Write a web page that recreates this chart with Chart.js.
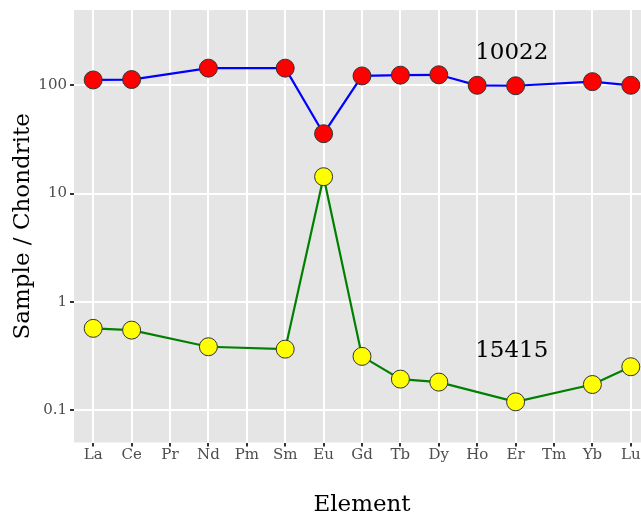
<!DOCTYPE html>
<html>
<head>
<meta charset="utf-8">
<script src="https://cdn.jsdelivr.net/npm/chart.js@4.4.1/dist/chart.umd.min.js"></script>
<style>
  html, body { margin: 0; padding: 0; background: #fff; }
  #wrap { width: 641px; height: 517px; overflow: hidden; }
  canvas { display: block; }
</style>
</head>
<body>
<div id="wrap"><canvas id="chart" width="660" height="517"></canvas></div>
<script>
// REE pattern, chondrite normalised
const elements = ["La", "Ce", "Pr", "Nd", "Pm", "Sm", "Eu", "Gd", "Tb", "Dy", "Ho", "Er", "Tm", "Yb", "Lu"];
const sample10022 = [112, 113, null, 144, null, 144, 35.7, 122, 124, 125, 100, 99, null, 108, 100];
const sample15415 = [0.568, 0.547, null, 0.384, null, 0.365, 14.3, 0.313, 0.193, 0.181, null, 0.119, null, 0.172, 0.251];
const yTicks = [0.1, 1, 10, 100];
const yTickLabels = ["0.1", "1", "10", "100"];
const sampleNames = ["10022", "15415"];
const nameAt = [[10.9, 200], [10.9, 0.352]]; // [category index, y value]

const FONT = "'DejaVu Serif', serif";

const panelBg = {
	id: "panelBg",
	beforeDraw(chart) {
		const { ctx, chartArea: a } = chart;
		ctx.save();
		ctx.fillStyle = "#E5E5E5";
		ctx.fillRect(a.left, a.top, a.right - a.left, a.bottom - a.top);
		ctx.restore();
	},
};

const sampleLabels = {
	id: "sampleLabels",
	afterDatasetsDraw(chart) {
		const { ctx, scales } = chart;
		ctx.save();
		ctx.font = "23px " + FONT;
		ctx.fillStyle = "#000";
		ctx.textAlign = "center";
		ctx.textBaseline = "middle";
		sampleNames.forEach((name, i) => {
			const x = scales.x.getPixelForValue(nameAt[i][0]);
			const y = scales.y.getPixelForValue(nameAt[i][1]);
			ctx.fillText(name, x, y);
		});
		ctx.restore();
	},
};

const data = {
	labels: elements,
	datasets: [
		{
			label: sampleNames[0],
			data: sample10022,
			borderColor: "#0000FF",
			borderWidth: 2.2,
			pointRadius: 9,
			pointHoverRadius: 9,
			pointBackgroundColor: "#FF0000",
			pointBorderColor: "#333333",
			pointBorderWidth: 1,
			spanGaps: true,
			tension: 0,
		},
		{
			label: sampleNames[1],
			data: sample15415,
			borderColor: "#008000",
			borderWidth: 2.2,
			pointRadius: 9,
			pointHoverRadius: 9,
			pointBackgroundColor: "#FFFF00",
			pointBorderColor: "#333333",
			pointBorderWidth: 1,
			spanGaps: true,
			tension: 0,
		},
	],
};

const options = {
	responsive: false,
	animation: false,
	events: [],
	layout: { padding: { top: 10, right: 9, left: 0, bottom: 0 } },
	plugins: {
		legend: { display: false },
		tooltip: { enabled: false },
	},
	scales: {
		x: {
			type: "category",
			offset: true,
			grid: {
				color: "#FFFFFF",
				lineWidth: 2,
				tickColor: "#333333",
				tickLength: 4,
				tickWidth: 2,
			},
			border: { display: false },
			ticks: {
				color: "#4D4D4D",
				padding: 0,
				maxRotation: 0,
				autoSkip: false,
				font: { family: FONT, size: 15 },
			},
			title: {
				display: true,
				text: "Element",
				color: "#000",
				font: { family: FONT, size: 23 },
				padding: { top: 0, bottom: -2 },
			},
			afterFit(scale) {
				scale.height = 74.5;
				scale.paddingLeft = 0;
				scale.paddingRight = 0;
			},
		},
		y: {
			type: "logarithmic",
			min: 0.0501,
			max: 496,
			bounds: "data",
			grid: {
				color: "#FFFFFF",
				lineWidth: 2,
				tickColor: "#333333",
				tickLength: 4,
				tickWidth: 2,
			},
			border: { display: false },
			ticks: {
				color: "#4D4D4D",
				padding: 3,
				font: { family: FONT, size: 15 },
				callback: (v) => {
					const i = yTicks.indexOf(v);
					return i >= 0 ? yTickLabels[i] : "";
				},
			},
			afterBuildTicks(scale) {
				scale.ticks = yTicks.map((v) => ({ value: v }));
			},
			title: {
				display: true,
				text: "Sample / Chondrite",
				color: "#000",
				font: { family: FONT, size: 23 },
				padding: { top: 9, bottom: 0 },
			},
			afterFit(scale) {
				scale.width = 74;
				scale.paddingTop = 0;
				scale.paddingBottom = 0;
			},
		},
	},
};

new Chart(document.getElementById("chart").getContext("2d"), {
	type: "line",
	data: data,
	options: options,
	plugins: [panelBg, sampleLabels],
});
</script>
</body>
</html>
